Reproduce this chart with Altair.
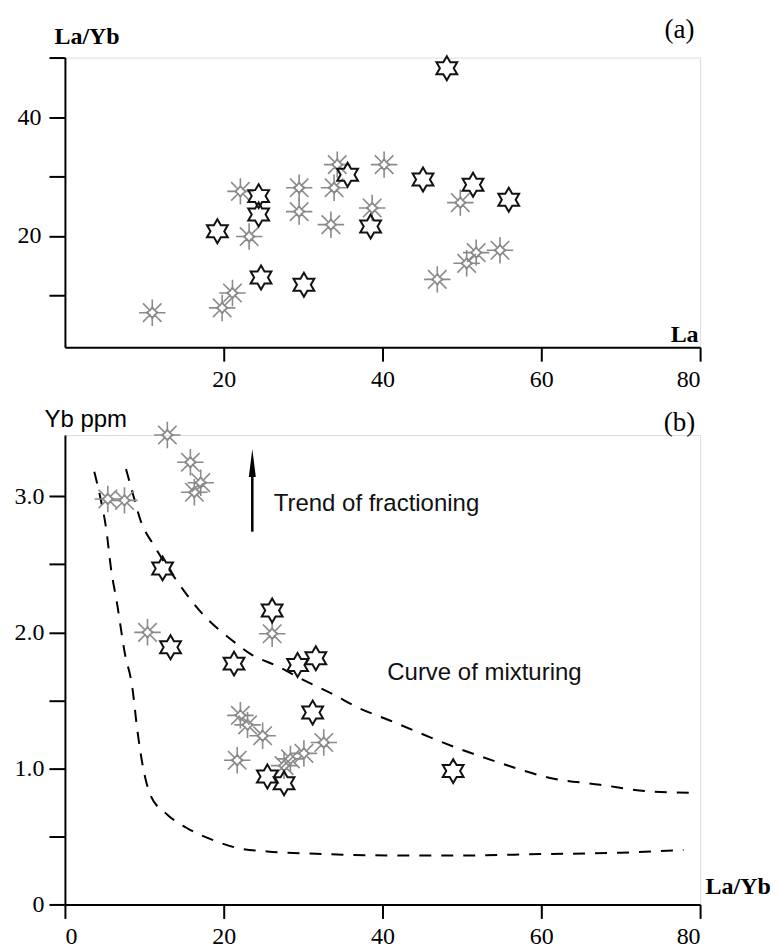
import altair as alt
import pandas as pd

SERIF = "Liberation Serif"
SANS = "Liberation Sans"

# ---------------- Panel (a): La/Yb vs La ----------------
a_black_la   = [19.2, 24.4, 24.4, 24.7, 30.1, 35.6, 38.5, 48.1, 45.1, 51.4, 55.9]
a_black_layb = [20.8, 26.7, 23.6, 13.0, 11.8, 30.3, 21.6, 48.2, 29.5, 28.6, 26.1]

a_grey_la   = [11.0, 19.8, 21.1, 22.1, 23.2, 29.5, 29.5, 33.5, 33.9, 34.3, 40.2, 38.7, 49.8, 46.9, 50.6, 51.8, 54.8]
a_grey_layb = [7.1, 7.9, 10.4, 27.5, 19.9, 28.1, 24.1, 21.9, 28.1, 32.0, 32.0, 24.7, 25.6, 12.7, 15.4, 17.2, 17.6]

a_x_ticks = [20, 40, 60, 80]
a_y_ticks = [10, 20, 30, 40, 50]

# ---------------- Panel (b): Yb vs La/Yb ----------------
b_black_layb = [12.3, 13.3, 26.1, 21.3, 29.3, 31.6, 31.2, 25.5, 27.6, 48.9]
b_black_yb   = [2.47, 1.89, 2.16, 1.77, 1.76, 1.81, 1.41, 0.94, 0.89, 0.98]

b_grey_layb = [12.9, 15.8, 17.1, 16.3, 5.4, 7.5, 10.4, 26.1, 22.1, 23.0, 24.9, 21.7, 28.4, 30.1, 32.6, 27.6]
b_grey_yb   = [3.45, 3.25, 3.10, 3.03, 2.98, 2.97, 2.00, 1.99, 1.39, 1.32, 1.24, 1.06, 1.07, 1.11, 1.19, 1.02]

inner_x = [3.7, 4.5, 5.2, 5.8, 6.6, 7.5, 8.5, 9.1, 9.8, 10.8, 12.9, 15.4, 18.8, 22.1, 25.5, 33.0, 41.0, 50.0, 59.9, 70.0, 77.9]
inner_y = [3.18, 2.98, 2.76, 2.47, 2.20, 1.86, 1.59, 1.29, 1.02, 0.80, 0.66, 0.56, 0.47, 0.41, 0.39, 0.37, 0.36, 0.36, 0.37, 0.38, 0.40]

outer_x = [7.7, 8.5, 9.6, 11.2, 14.2, 17.1, 21.3, 23.4, 26.8, 29.7, 33.9, 36.8, 41.0, 49.4, 54.8, 61.1, 67.4, 73.7, 79.2]
outer_y = [3.20, 3.03, 2.81, 2.64, 2.37, 2.15, 1.93, 1.84, 1.75, 1.66, 1.54, 1.45, 1.35, 1.15, 1.04, 0.93, 0.88, 0.83, 0.82]

b_x_ticks = [0, 20, 40, 60, 80]
b_y_ticks = [0, 0.5, 1.0, 1.5, 2.0, 2.5, 3.0]

arrow_x = [23.6]
arrow_y0 = [2.74]
arrow_y1 = [3.2]
arrow_head_y = [3.245]

notes_b_text = ["Trend of fractioning", "Curve of mixturing"]
notes_b_x = [26.3, 40.6]
notes_b_y = [2.94, 1.70]

# ---------------- marker shapes ----------------
HEXAGRAM = ("M0,-1L0.289,-0.5L0.866,-0.5L0.577,0L0.866,0.5L0.289,0.5L0,1"
            "L-0.289,0.5L-0.866,0.5L-0.577,0L-0.866,-0.5L-0.289,-0.5Z")
ASTER = ("M0,-1L0,-0.25M0,1L0,0.25M-1,0L-0.25,0M1,0L0.25,0"
         "M-0.7,-0.7L-0.18,-0.18M0.7,0.7L0.18,0.18M-0.7,0.7L-0.18,0.18M0.7,-0.7L0.18,-0.18"
         "M0,-0.45L0.17,-0.17L0.45,0L0.17,0.17L0,0.45L-0.17,0.17L-0.45,0L-0.17,-0.17Z")
ARROWHEAD = "M0,-1L0.25,1L-0.25,1Z"

W = 636

def axis_common(**kw):
    base = dict(grid=False, domainColor="black", domainWidth=2, tickColor="black",
                tickWidth=2, labelFont=SERIF, labelFontSize=24, labelColor="black",
                titleColor="black")
    base.update(kw)
    return alt.Axis(**base)

# ---- panel a ----
df_ab = pd.DataFrame({"x": a_black_la, "y": a_black_layb})
df_ag = pd.DataFrame({"x": a_grey_la, "y": a_grey_layb})

xa = alt.X("x:Q", scale=alt.Scale(domain=[0, 80], nice=False, zero=False),
           axis=axis_common(values=a_x_ticks, tickSize=14, labelPadding=6, title="La",
                            titleX=634, titleY=-6, titleAlign="right", titleBaseline="alphabetic",
                            titleFont=SERIF, titleFontSize=24, titleFontWeight="bold"))
ya = alt.Y("y:Q", scale=alt.Scale(domain=[1.3, 50], nice=False, zero=False),
           axis=axis_common(values=a_y_ticks, tickSize=16, labelPadding=8,
                            labelExpr="(datum.value == 20 || datum.value == 40) ? datum.label : ''",
                            title="La/Yb", titleAngle=0, titleX=-11, titleY=-14,
                            titleAlign="left", titleBaseline="alphabetic",
                            titleFont=SERIF, titleFontSize=24, titleFontWeight="bold"))

a_grey = alt.Chart(df_ag).mark_point(shape=ASTER, size=700, filled=False, color="#8a8a8a",
                                      strokeWidth=1.6, opacity=1).encode(x=xa, y=ya)
a_black = alt.Chart(df_ab).mark_point(shape=HEXAGRAM, size=576, filled=False, color="#111111",
                                       strokeWidth=2, opacity=1).encode(x="x:Q", y="y:Q")
a_label = alt.Chart(pd.DataFrame({"x": [77.4], "y": [54.7], "t": ["(a)"]})).mark_text(
    font=SERIF, fontSize=27, align="center", baseline="middle", color="black"
).encode(x="x:Q", y="y:Q", text="t:N")

top = alt.layer(a_grey, a_black, a_label).properties(width=W, height=290)

# ---- panel b ----
df_bb = pd.DataFrame({"x": b_black_layb, "y": b_black_yb})
df_bg = pd.DataFrame({"x": b_grey_layb, "y": b_grey_yb})
df_in = pd.DataFrame({"x": inner_x, "y": inner_y})
df_out = pd.DataFrame({"x": outer_x, "y": outer_y})

xb = alt.X("x:Q", scale=alt.Scale(domain=[0, 80], nice=False, zero=False),
           axis=axis_common(values=b_x_ticks, tickSize=14, labelPadding=6, title="La/Yb",
                            titleX=641, titleY=-11, titleAlign="left", titleBaseline="alphabetic",
                            titleFont=SERIF, titleFontSize=24, titleFontWeight="bold"))
yb = alt.Y("y:Q", scale=alt.Scale(domain=[0, 3.45], nice=False, zero=False),
           axis=axis_common(values=b_y_ticks, tickSize=16, labelPadding=5,
                            labelExpr="datum.value == 0 ? '0' : (datum.value % 1 == 0 ? format(datum.value, '.1f') : '')",
                            title="Yb ppm", titleAngle=0, titleX=-21, titleY=-9,
                            titleAlign="left", titleBaseline="alphabetic",
                            titleFont=SANS, titleFontSize=24, titleFontWeight="normal"))

b_inner = alt.Chart(df_in).mark_line(color="black", strokeWidth=2, strokeDash=[12, 10],
                                     interpolate="monotone").encode(x=xb, y=yb)
b_outer = alt.Chart(df_out).mark_line(color="black", strokeWidth=2, strokeDash=[12, 10],
                                      interpolate="monotone").encode(x="x:Q", y="y:Q")
b_grey = alt.Chart(df_bg).mark_point(shape=ASTER, size=700, filled=False, color="#8a8a8a",
                                      strokeWidth=1.6, opacity=1).encode(x="x:Q", y="y:Q")
b_black = alt.Chart(df_bb).mark_point(shape=HEXAGRAM, size=576, filled=False, color="#111111",
                                       strokeWidth=2, opacity=1).encode(x="x:Q", y="y:Q")
arrow_df = pd.DataFrame({"x": arrow_x, "y0": arrow_y0, "y1": arrow_y1, "yh": arrow_head_y})
b_arrow = alt.Chart(arrow_df).mark_rule(color="black", strokeWidth=2.5).encode(
    x="x:Q", y="y0:Q", y2="y1:Q")
b_head = alt.Chart(arrow_df).mark_point(shape=ARROWHEAD, size=784, filled=True, color="black",
                                         opacity=1).encode(x="x:Q", y="yh:Q")
notes_df = pd.DataFrame({"x": notes_b_x, "y": notes_b_y, "t": notes_b_text})
b_notes = alt.Chart(notes_df).mark_text(font=SANS, fontSize=24, align="left", baseline="middle",
                                        color="#111111").encode(x="x:Q", y="y:Q", text="t:N")
b_label = alt.Chart(pd.DataFrame({"x": [77.4], "y": [3.54], "t": ["(b)"]})).mark_text(
    font=SERIF, fontSize=27, align="center", baseline="middle", color="black"
).encode(x="x:Q", y="y:Q", text="t:N")

bottom = alt.layer(b_inner, b_outer, b_grey, b_black, b_arrow, b_head, b_notes, b_label).properties(
    width=W, height=470)

chart = alt.vconcat(top, bottom, spacing=88, bounds="flush").properties(
    padding={"left": 5, "top": 6, "right": 0, "bottom": 0}
).configure_view(stroke=None).configure(background="white")

chart.save("out.html", embed_options={"renderer": "svg", "actions": False})
